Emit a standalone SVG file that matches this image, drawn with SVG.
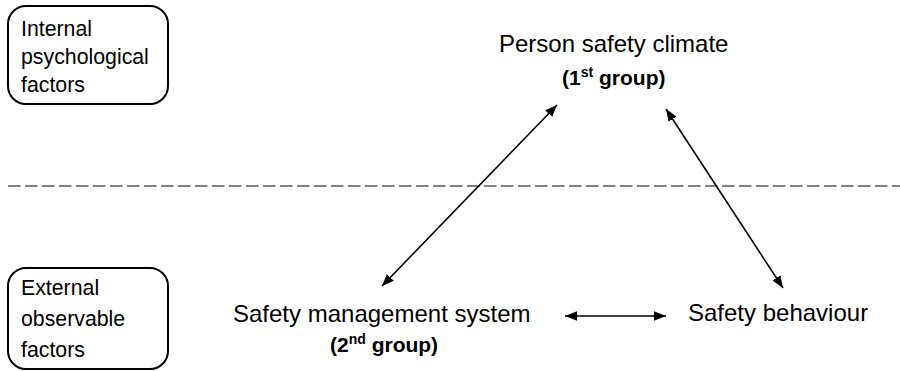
<svg xmlns="http://www.w3.org/2000/svg" width="900" height="371" viewBox="0 0 900 371">
<style>
.box{fill:#fff;stroke:#000;stroke-width:2}
.t{font-family:"Liberation Sans",Arial,sans-serif;fill:#000}
.lab{font-size:21.3px}
.main{font-size:24px}
.grp{font-size:21px;font-weight:bold}
.sup{font-size:14px}
.conn{stroke:#000;stroke-width:1.6;fill:none;marker-start:url(#ah);marker-end:url(#ah)}
.dash{stroke:#808080;stroke-width:2;stroke-dasharray:12.5 4.5;fill:none}
</style>
<defs>
<marker id="ah" viewBox="0 0 10 10" refX="10" refY="5" markerWidth="7.5" markerHeight="7.5" orient="auto-start-reverse" markerUnits="strokeWidth">
<path d="M0,1 L10,5 L0,9 Z" fill="#000"/>
</marker>
</defs>
<rect width="900" height="371" fill="#fff"/>
<line class="dash" x1="8" y1="186" x2="900" y2="186"/>
<g id="internal">
<rect class="box" x="8" y="6" width="160" height="98" rx="18"/>
<text class="t lab" x="21" y="36">Internal</text>
<text class="t lab" x="21" y="64">psychological</text>
<text class="t lab" x="21" y="92">factors</text>
</g>
<g id="external">
<rect class="box" x="8" y="268" width="160" height="101" rx="18"/>
<text class="t lab" x="21" y="295">External</text>
<text class="t lab" x="21" y="326">observable</text>
<text class="t lab" x="21" y="357">factors</text>
</g>
<g id="person">
<text class="t main" x="499" y="52">Person safety climate</text>
<text class="t grp" x="562" y="85">(1<tspan class="sup" dy="-8">st</tspan><tspan dy="8"> group)</tspan></text>
</g>
<g id="sms">
<text class="t main" x="233" y="322">Safety management system</text>
<text class="t grp" x="330" y="352">(2<tspan class="sup" dy="-8">nd</tspan><tspan dy="8"> group)</tspan></text>
</g>
<g id="behaviour">
<text class="t main" x="688" y="321">Safety behaviour</text>
</g>
<g id="connectors">
<line class="conn" x1="382" y1="286" x2="557" y2="105"/>
<line class="conn" x1="783" y1="288" x2="666" y2="109"/>
<line class="conn" x1="565" y1="316" x2="666" y2="316"/>
</g>
</svg>
